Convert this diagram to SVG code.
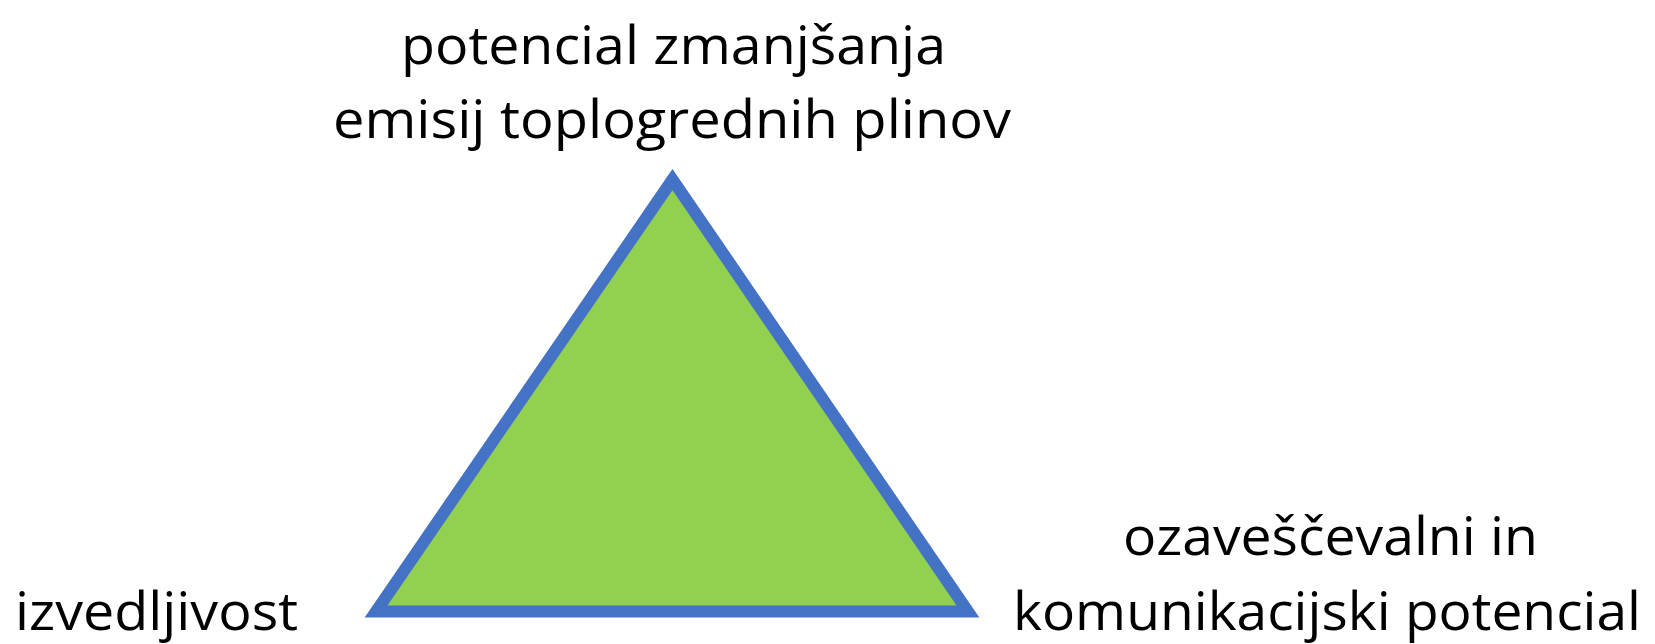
<svg xmlns="http://www.w3.org/2000/svg" width="1655" height="644" viewBox="0 0 1655 644">
<style>
text{font-family:"Open Sans","Liberation Sans",sans-serif;font-size:53px;fill:#000}
</style>
<rect width="1655" height="644" fill="#fff"/>
<g id="triangle">
<polygon points="672.5,179.5 376,611.5 968,611.5" fill="#92D050" stroke="#4472C4" stroke-width="12" stroke-linejoin="miter"/>
</g>
<g id="label-top">
<text x="401" y="64" textLength="545" lengthAdjust="spacingAndGlyphs">potencial zmanjšanja</text>
<text x="333" y="138" textLength="678" lengthAdjust="spacingAndGlyphs">emisij toplogrednih plinov</text>
</g>
<g id="label-left">
<text x="15" y="630" textLength="283" lengthAdjust="spacingAndGlyphs">izvedljivost</text>
</g>
<g id="label-right">
<text x="1123" y="555" textLength="415" lengthAdjust="spacingAndGlyphs">ozaveščevalni in</text>
<text x="1013" y="630" textLength="628" lengthAdjust="spacingAndGlyphs">komunikacijski potencial</text>
</g>
<g id="connectors"/>
</svg>
